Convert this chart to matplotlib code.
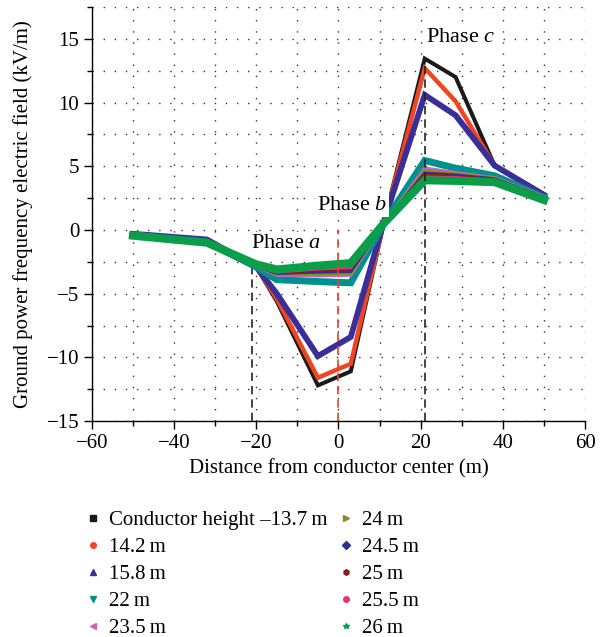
import matplotlib
matplotlib.use('Agg')
import matplotlib.pyplot as plt
from matplotlib.lines import Line2D
from matplotlib.ticker import MultipleLocator

plt.rcParams['font.family'] = ['Liberation Serif', 'DejaVu Serif']
plt.rcParams['mathtext.fontset'] = 'custom'
plt.rcParams['mathtext.rm'] = 'Liberation Serif'
plt.rcParams['mathtext.it'] = 'Liberation Serif:italic'

# distance from conductor center (m)
x = [-50, -32, -20, -15, -5, 3, 11, 21, 28.5, 38, 50]

# ground power frequency electric field (kV/m) per conductor height
h13_7 = [-0.35, -0.8, -2.9, -5.6, -12.2, -11.1, 0.5, 13.45, 12.0, 5.05, 2.8]
h14_2 = [-0.35, -0.8, -2.9, -5.4, -11.6, -10.5, 0.5, 12.7, 10.1, 5.05, 2.8]
h15_8 = [-0.3, -0.75, -2.9, -5.0, -9.9, -8.4, 0.6, 10.6, 9.0, 5.05, 2.75]
h22 = [-0.4, -0.95, -2.9, -3.9, -4.05, -4.15, 0.5, 5.45, 4.85, 4.25, 2.55]
h23_5 = [-0.4, -0.95, -2.85, -3.55, -3.6, -3.55, 0.5, 4.85, 4.5, 4.1, 2.6]
h24 = [-0.4, -0.95, -2.85, -3.45, -3.45, -3.4, 0.5, 4.65, 4.4, 4.05, 2.55]
h24_5 = [-0.4, -0.95, -2.85, -3.4, -3.3, -3.25, 0.5, 4.45, 4.3, 4.0, 2.55]
h25 = [-0.4, -0.95, -2.85, -3.35, -3.15, -3.05, 0.5, 4.3, 4.2, 3.95, 2.5]
h25_5 = [-0.4, -0.95, -2.85, -3.3, -3.05, -2.95, 0.5, 4.15, 4.1, 3.9, 2.5]
h26 = [-0.45, -1.0, -2.7, -3.1, -2.8, -2.6, 0.5, 3.9, 3.85, 3.75, 2.35]

series = [h13_7, h14_2, h15_8, h22, h23_5, h24, h24_5, h25, h25_5, h26]
labels = ['Conductor height \u201313.7\u2009m', '14.2\u2009m', '15.8\u2009m', '22\u2009m',
          '23.5\u2009m', '24\u2009m', '24.5\u2009m', '25\u2009m', '25.5\u2009m', '26\u2009m']
colors = ['#1a1a1a', '#f04523', '#3a2f98', '#00908e', '#c266bb',
          '#8c8c1e', '#2e3192', '#8b1a1a', '#e8307a', '#0a9e48']
widths = [2.9, 3.2, 4.2, 5.0, 2.4, 2.4, 2.4, 2.4, 2.4, 5.8]
markers = ['s', 'o', '^', 'v', '<', '>', 'D', 'h', 'o', '*']

fig = plt.figure(figsize=(6.12, 6.37), dpi=100)
ax = fig.add_axes([0.150, 0.339, 0.806, 0.650])

for y, c, w in zip(series, colors, widths):
    ax.plot(x, y, color=c, lw=w, solid_joinstyle='miter', zorder=3)

# phase position markers
ax.plot([-21, -21], [-15, -2.9], color='#222222', ls=(0, (5, 3)), lw=1.2, zorder=2)
ax.plot([21, 21], [-15, 13.6], color='#222222', ls=(0, (5, 3)), lw=1.2, zorder=4)
ax.plot([0, 0], [-15, 0], color='#e8402a', ls=(0, (5, 3)), lw=1.2, zorder=4)

box = dict(facecolor='white', edgecolor='none', pad=1.5)
ax.text(-12.8, -1.1, 'Phase $a$', fontsize=16, ha='center', va='center', bbox=box, zorder=5)
ax.text(3.3, 1.95, 'Phase $b$', fontsize=16, ha='center', va='center', bbox=box, zorder=5)
ax.text(29.8, 15.1, 'Phase $c$', fontsize=16, ha='center', va='center', bbox=box, zorder=5)

ax.set_xlim(-60, 60)
ax.set_ylim(-15, 17.5)
ax.xaxis.set_major_locator(MultipleLocator(20))
ax.xaxis.set_minor_locator(MultipleLocator(10))
ax.yaxis.set_major_locator(MultipleLocator(5))
ax.yaxis.set_minor_locator(MultipleLocator(2.5))
ax.grid(True, which='both', color='#333333', ls=(0, (1, 7)), lw=1.0, zorder=0)
ax.set_axisbelow(True)
for s in ['top', 'right']:
    ax.spines[s].set_visible(False)
for s in ['left', 'bottom']:
    ax.spines[s].set_linewidth(1.0)
ax.tick_params(which='major', direction='out', length=6, width=1.0, labelsize=15, pad=3)
ax.tick_params(which='minor', direction='out', length=3.5, width=1.0)
ax.set_xlabel('Distance from conductor center (m)', fontsize=15, labelpad=5)
ax.set_ylabel('Ground power frequency electric field (kV/m)', fontsize=15, labelpad=10)

handles = [Line2D([], [], ls='none', marker=m, color=c, markersize=4)
           for m, c in zip(markers, colors)]
fig.legend(handles, labels, loc='upper left', bbox_to_anchor=(0.135, 0.199), ncol=2,
           frameon=False, fontsize=15, borderpad=0, borderaxespad=0, handlelength=1.0,
           handletextpad=0.25, columnspacing=0.4, labelspacing=0.36)

fig.savefig('out.png', dpi=100)
